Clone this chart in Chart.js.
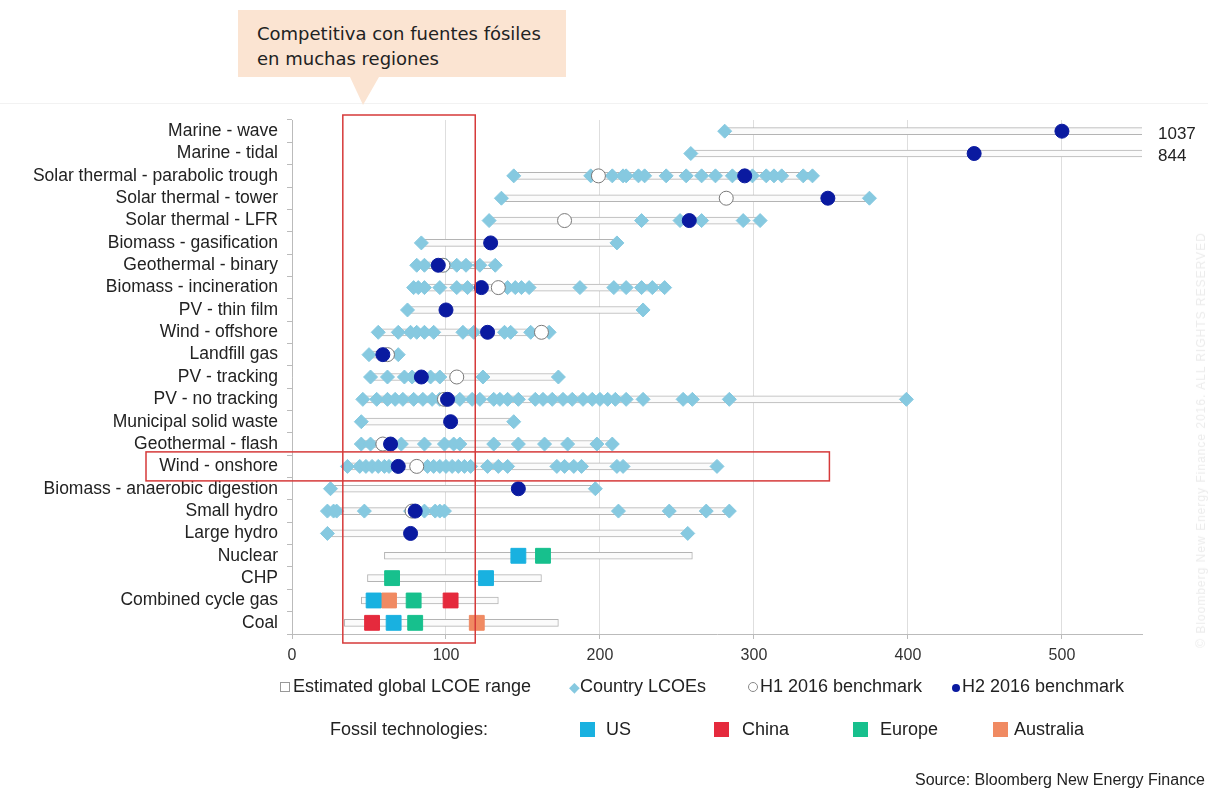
<!DOCTYPE html>
<html lang="es">
<head>
<meta charset="UTF-8">
<title>LCOE por tecnología</title>
<script src="https://cdn.jsdelivr.net/npm/chart.js"></script>
<style>
body { margin: 0; background: #fff; font-family: 'Liberation Sans', Arial, sans-serif; }
#wrap { position: relative; width: 1208px; height: 792px; overflow: hidden; }
#chart { position: absolute; left: 0; top: 0; }
.callout {
    position: absolute; left: 238px; top: 10px; width: 328px; height: 67px;
    background: #fbe4d2; box-sizing: border-box; padding: 11px 0 0 19px;
    font-family: 'DejaVu Sans', sans-serif; font-size: 18px; line-height: 25px; color: #222;
}
.callout:after {
    content: ''; position: absolute; left: 112px; top: 67px;
    border-left: 13px solid transparent; border-right: 16px solid transparent;
    border-top: 28px solid #fbe4d2;
}
.leg { position: absolute; font-size: 18px; color: #222; white-space: nowrap; }
.sq { position: absolute; width: 15px; height: 15px; }
.src { position: absolute; left: 915px; top: 771px; font-size: 16px; color: #222; white-space: nowrap; }
.wm { position: absolute; left: 1201px; top: 440px; transform: translate(-50%,-50%) rotate(-90deg);
      font-size: 12px; color: #ececec; white-space: nowrap; letter-spacing: 1px; }
.topline { position: absolute; left: 0; top: 103px; width: 1208px; height: 1px; background: #f2f2f2; }
</style>
</head>
<body>
<div id="wrap">
    <div class="topline"></div>
    <canvas id="chart" width="1208" height="792"></canvas>
    <div class="callout">Competitiva con fuentes fósiles<br>en muchas regiones</div>

    <div class="leg" style="left:280px;top:676px;"><span style="display:inline-block;width:8px;height:8px;border:1px solid #999;margin-right:3px;"></span>Estimated global LCOE range</div>
    <div class="leg" style="left:569px;top:676px;"><span style="color:#86c9e0;font-size:14px;">&#9670;</span>Country LCOEs</div>
    <div class="leg" style="left:748px;top:676px;"><span style="display:inline-block;width:8px;height:8px;border:1px solid #888;border-radius:50%;margin-right:2px;"></span>H1 2016 benchmark</div>
    <div class="leg" style="left:952px;top:676px;"><span style="display:inline-block;width:8px;height:8px;background:#0a1aa0;border-radius:50%;margin-right:2px;"></span>H2 2016 benchmark</div>

    <div class="leg" style="left:330px;top:719px;">Fossil technologies:</div>
    <div class="sq" style="left:580px;top:722px;background:#19b1e0;"></div>
    <div class="leg" style="left:606px;top:719px;">US</div>
    <div class="sq" style="left:714px;top:722px;background:#e52a3d;"></div>
    <div class="leg" style="left:742px;top:719px;">China</div>
    <div class="sq" style="left:853px;top:722px;background:#17c08d;"></div>
    <div class="leg" style="left:880px;top:719px;">Europe</div>
    <div class="sq" style="left:993px;top:722px;background:#f08a62;"></div>
    <div class="leg" style="left:1014px;top:719px;">Australia</div>

    <div class="src">Source: Bloomberg New Energy Finance</div>
    <div class="wm">© Bloomberg New Energy Finance 2016. ALL RIGHTS RESERVED</div>
</div>

<script>
// categorias (de arriba a abajo)
var categories = [
    'Marine - wave', 'Marine - tidal', 'Solar thermal - parabolic trough', 'Solar thermal - tower',
    'Solar thermal - LFR', 'Biomass - gasification', 'Geothermal - binary', 'Biomass - incineration',
    'PV - thin film', 'Wind - offshore', 'Landfill gas', 'PV - tracking', 'PV - no tracking',
    'Municipal solid waste', 'Geothermal - flash', 'Wind - onshore', 'Biomass - anaerobic digestion',
    'Small hydro', 'Large hydro', 'Nuclear', 'CHP', 'Combined cycle gas', 'Coal'
];

// rango global estimado de LCOE
var rangeLow  = [281, 259, 144, 136, 128, 84, 81, 79, 75, 56, 50, 51, 46, 45, 45, 36, 25, 23, 23, 60, 49, 45, 34];
var rangeHigh = [1037, 844, 338, 375, 304, 211, 132, 242, 228, 167, 69, 173, 399, 144, 208, 276, 197, 284, 257, 260, 162, 134, 173];

// LCOE por pais
var countryLcoe = [
    [281],
    [259],
    [144, 194, 208, 215, 217, 225, 229, 243, 256, 266, 275, 286, 299, 308, 313, 318, 332, 338],
    [136, 375],
    [128, 227, 252, 266, 293, 304],
    [84, 211],
    [81, 86, 100, 107, 113, 122, 132],
    [79, 82, 86, 96, 107, 114, 140, 145, 149, 154, 187, 209, 217, 227, 234, 242],
    [75, 228],
    [56, 69, 77, 81, 86, 92, 111, 118, 138, 142, 155, 167],
    [50, 69],
    [51, 62, 73, 78, 90, 96, 124, 173],
    [46, 55, 62, 67, 72, 79, 85, 91, 96, 109, 117, 122, 131, 135, 140, 147, 158, 163, 169, 176, 182, 189, 195, 200, 205, 210, 217, 228, 254, 260, 284, 399],
    [45, 144],
    [45, 51, 71, 86, 99, 105, 109, 131, 147, 164, 179, 198, 208],
    [36, 44, 48, 52, 56, 60, 63, 88, 92, 96, 100, 104, 108, 112, 116, 127, 134, 140, 172, 177, 183, 188, 211, 215, 276],
    [25, 197],
    [23, 27, 29, 47, 77, 86, 93, 96, 99, 212, 245, 269, 284],
    [23, 257],
    [], [], [], []
];

// benchmarks
var h1Bench = [null, null, 199, 282, 177, null, 98, 134, null, 162, 62, 107, 99, null, 59, 81, null, 78, null, null, null, null, null];
var h2Bench = [500, 443, 294, 348, 258, 129, 95, 123, 100, 127, 59, 84, 101, 103, 64, 69, 147, 80, 77, null, null, null, null];

// tecnologias fosiles
var fossilUS        = [null, null, null, null, null, null, null, null, null, null, null, null, null, null, null, null, null, null, null, 147, 126, 53, 66];
var fossilChina     = [null, null, null, null, null, null, null, null, null, null, null, null, null, null, null, null, null, null, null, null, null, 103, 52];
var fossilEurope    = [null, null, null, null, null, null, null, null, null, null, null, null, null, null, null, null, null, null, null, 163, 65, 79, 80];
var fossilAustralia = [null, null, null, null, null, null, null, null, null, null, null, null, null, null, null, null, null, null, null, null, null, 63, 120];

var xTicks = [0, 100, 200, 300, 400, 500];

function toPoints(vals) {
    var pts = [];
    vals.forEach(function(v, i) {
        if (v !== null) pts.push({ x: v, y: categories[i] });
    });
    return pts;
}

var countryPts = [];
countryLcoe.forEach(function(list, i) {
    list.forEach(function(v) { countryPts.push({ x: v, y: categories[i] }); });
});

function pointSet(label, pts, style, radius, bg, border, order) {
    return {
        type: 'line', label: label, data: pts, showLine: false,
        pointStyle: style, pointRadius: radius, pointHoverRadius: radius,
        pointBackgroundColor: bg, pointBorderColor: border, pointBorderWidth: 1,
        order: order
    };
}

// marcos rojos y etiquetas 1037 / 844
var overlay = {
    id: 'overlay',
    afterDatasetsDraw: function(chart) {
        var ctx = chart.ctx, xs = chart.scales.x, ys = chart.scales.y, area = chart.chartArea;
        ctx.save();
        ctx.strokeStyle = '#d63a3a';
        ctx.lineWidth = 1.5;
        var x1 = xs.getPixelForValue(33), x2 = xs.getPixelForValue(119);
        ctx.strokeRect(x1, area.top - 5, x2 - x1, area.bottom - area.top + 14);
        var yw = ys.getPixelForValue(15);
        ctx.strokeRect(146, yw - 14.5, xs.getPixelForValue(349) - 146, 29);

        ctx.fillStyle = '#222';
        ctx.font = '17px "Liberation Sans", Arial, sans-serif';
        ctx.textBaseline = 'middle';
        ctx.fillText(String(rangeHigh[0]), area.right + 16, ys.getPixelForValue(0) + 3);
        ctx.fillText(String(rangeHigh[1]), area.right + 16, ys.getPixelForValue(1) + 3);
        ctx.restore();
    }
};

new Chart(document.getElementById('chart'), {
    type: 'bar',
    data: {
        labels: categories,
        datasets: [
            pointSet('H2 2016 benchmark', toPoints(h2Bench), 'circle', 7, '#0a1aa0', '#0a1aa0', 0),
            pointSet('US', toPoints(fossilUS), 'rect', 10.5, '#19b1e0', '#19b1e0', 0),
            pointSet('China', toPoints(fossilChina), 'rect', 10.5, '#e52a3d', '#e52a3d', 0),
            pointSet('Europe', toPoints(fossilEurope), 'rect', 10.5, '#17c08d', '#17c08d', 0),
            pointSet('Australia', toPoints(fossilAustralia), 'rect', 10.5, '#f08a62', '#f08a62', 0),
            pointSet('H1 2016 benchmark', toPoints(h1Bench), 'circle', 7, '#ffffff', '#7a7a7a', 1),
            pointSet('Country LCOEs', countryPts, 'rectRot', 7, '#86c9e0', '#86c9e0', 2),
            {
                label: 'Estimated global LCOE range',
                data: rangeLow.map(function(lo, i) { return [lo, rangeHigh[i]]; }),
                backgroundColor: '#fbfbfb',
                borderColor: '#b4b4b4',
                borderWidth: 1,
                borderSkipped: false,
                barThickness: 7,
                order: 5
            }
        ]
    },
    options: {
        indexAxis: 'y',
        responsive: false,
        animation: false,
        layout: { padding: { left: 0, right: 66, top: 120, bottom: 122 } },
        plugins: { legend: { display: false }, tooltip: { enabled: false } },
        scales: {
            x: {
                type: 'linear', min: 0, max: 552,
                afterBuildTicks: function(s) { s.ticks = xTicks.map(function(v) { return { value: v }; }); },
                afterFit: function(s) { s.height = 36; },
                grid: { color: '#dedede', tickLength: 5, tickColor: '#bbb' },
                border: { color: '#bbb' },
                ticks: { color: '#333', padding: 7, font: { family: 'Liberation Sans', size: 16 } }
            },
            y: {
                type: 'category',
                afterFit: function(s) { s.width = 292; },
                grid: { drawOnChartArea: false, tickLength: 5, color: '#bbb' },
                border: { color: '#bbb' },
                ticks: { color: '#222', padding: 9, autoSkip: false, font: { family: 'Liberation Sans', size: 17.5 } }
            }
        }
    },
    plugins: [overlay]
});
</script>
</body>
</html>
